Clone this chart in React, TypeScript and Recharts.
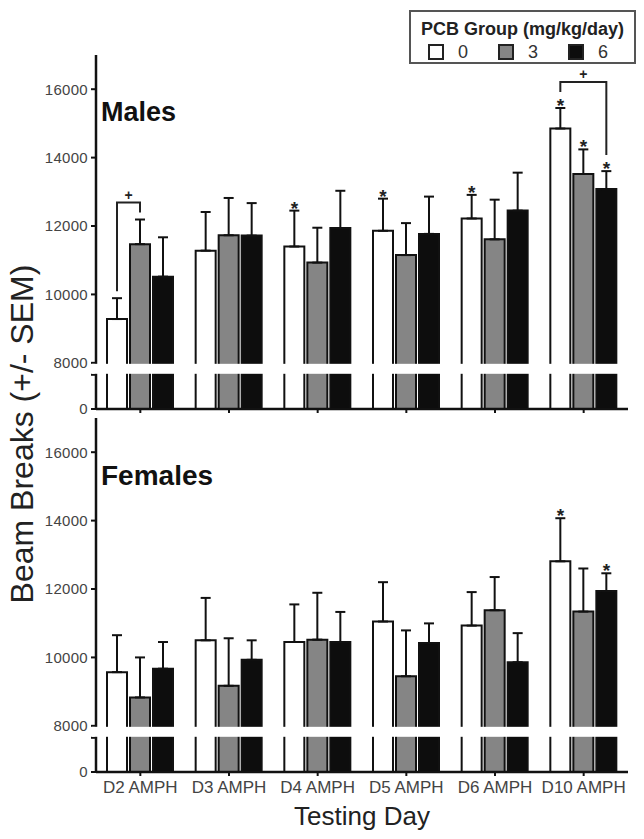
import React from 'react';
import { BarChart, Bar, XAxis, YAxis, ErrorBar, LabelList, ReferenceArea, Legend, Label } from 'recharts';

// categories and groups
const days = ['D2 AMPH', 'D3 AMPH', 'D4 AMPH', 'D5 AMPH', 'D6 AMPH', 'D10 AMPH'];
const groups = ['0', '3', '6'];
const yTickValues = [0, 8000, 10000, 12000, 14000, 16000];

// Males : moyennes et SEM par groupe PCB
const malesMean0 = [9280, 11280, 11400, 11860, 12220, 14850];
const malesMean3 = [11470, 11730, 10930, 11150, 11610, 13520];
const malesMean6 = [10520, 11720, 11940, 11770, 12450, 13080];
const malesSem0 = [610, 1130, 1050, 940, 690, 600];
const malesSem3 = [720, 1090, 1020, 935, 1160, 720];
const malesSem6 = [1150, 950, 1090, 1090, 1110, 525];
const malesStar0 = [false, false, true, true, true, true];
const malesStar3 = [false, false, false, false, false, true];
const malesStar6 = [false, false, false, false, false, true];
const malesBrackets = [
    { day: 0, from: 0, to: 1 },
    { day: 5, from: 0, to: 2 },
];

// Females
const femalesMean0 = [9570, 10500, 10450, 11050, 10930, 12810];
const femalesMean3 = [8830, 9170, 10520, 9450, 11380, 11340];
const femalesMean6 = [9670, 9930, 10450, 10420, 9860, 11940];
const femalesSem0 = [1080, 1240, 1100, 1150, 980, 1260];
const femalesSem3 = [1170, 1390, 1370, 1340, 970, 1260];
const femalesSem6 = [780, 570, 880, 575, 850, 520];
const femalesStar0 = [false, false, false, false, false, true];
const femalesStar3 = [false, false, false, false, false, false];
const femalesStar6 = [false, false, false, false, false, true];
const femalesBrackets: Bracket[] = [];

interface Bracket {
    day: number;
    from: number;
    to: number;
}

// axe coupé : 0-8000 compressé, puis linéaire au-dessus de 8000
const BREAK = 8000;
const LOW_TOP = 1000;
const HIGH_START = 1350;
const U_MAX = 10350;
const u = (v: number) => (v < BREAK ? (v / BREAK) * LOW_TOP : HIGH_START + (v - BREAK));

const FONT = '"Liberation Sans", Arial, Helvetica, sans-serif';
const BAR_SIZE = 20;
const BAR_GAP = 3;
const fills = ['#ffffff', '#858585', '#0d0d0d'];
const INK = '#111';

const yTicks = [...yTickValues.map(u), LOW_TOP].sort((a, b) => a - b);
const yTickFormat = (t: number) => {
    if (t === 0) return '0';
    if (t < HIGH_START) return '';
    return String(Math.round(t - HIGH_START + BREAK));
};

const makeAnnotation = (k: number, means: number[][], sems: number[][], stars: boolean[][], brackets: Bracket[]) =>
    (props: any) => {
        const vb = props.viewBox ?? props;
        const { x, y, width, height } = vb;
        const i = Number(props.value);
        if (!Number.isFinite(i) || !height) return null;
        const ppu = height / u(means[k][i]);
        const base = y + height;
        const step = width + BAR_GAP;
        const cx = x + width / 2;
        const capOf = (s: number) => base - (u(means[s][i]) + sems[s][i]) * ppu;
        const legEnd = (s: number) => capOf(s) - (stars[s][i] ? 16 : 7);
        const nodes: React.ReactNode[] = [];
        if (stars[k][i]) {
            nodes.push(
                <text key="s" x={cx} y={capOf(k) + 4} textAnchor="middle" fontSize={19} fontWeight="bold" fill="#222" fontFamily={FONT}>
                    *
                </text>
            );
        }
        brackets
            .filter((b) => b.day === i && b.from === k)
            .forEach((b, j) => {
                const x2 = cx + (b.to - k) * step;
                const y1 = legEnd(k);
                const y2 = legEnd(b.to);
                const top = Math.min(y1, y2) - 10;
                nodes.push(<path key={'b' + j} d={`M${cx},${y1}V${top}H${x2}V${y2}`} fill="none" stroke="#222" strokeWidth={2} />);
                nodes.push(
                    <text key={'p' + j} x={(cx + x2) / 2} y={top - 3} textAnchor="middle" fontSize={14} fontWeight="bold" fill="#222" fontFamily={FONT}>
                        +
                    </text>
                );
            });
        return <g>{nodes}</g>;
    };

const renderLegend = (props: any) => {
    const payload = props.payload ?? [];
    return (
        <div style={{ position: 'relative', width: 227, height: 54, border: '2px solid #555', boxSizing: 'border-box', background: '#fff', fontFamily: FONT }}>
            <div style={{ position: 'absolute', left: 0, right: 0, top: 7, textAlign: 'center', fontSize: 18, fontWeight: 'bold', color: '#222', lineHeight: '20px' }}>
                PCB Group (mg/kg/day)
            </div>
            {payload.map((entry: any, i: number) => (
                <div key={i} style={{ position: 'absolute', left: 17 + i * 70, top: 31, display: 'flex', alignItems: 'center', lineHeight: '18px' }}>
                    <span style={{ display: 'inline-block', width: 12, height: 12, border: '2px solid #222', background: fills[i] }} />
                    <span style={{ marginLeft: 14, fontSize: 18, color: '#333' }}>{entry.value}</span>
                </div>
            ))}
        </div>
    );
};

interface PanelProps {
    means: number[][];
    sems: number[][];
    stars: boolean[][];
    brackets: Bracket[];
    height: number;
    margin: { top: number; right: number; bottom: number; left: number };
    xAxisHeight: number;
    bottomPanel?: boolean;
}

const Panel: React.FC<PanelProps> = ({ means, sems, stars, brackets, height, margin, xAxisHeight, bottomPanel }) => {
    const data = days.map((day, i) => ({
        day,
        idx: String(i),
        v0: u(means[0][i]),
        v1: u(means[1][i]),
        v2: u(means[2][i]),
        e0: [0, sems[0][i]],
        e1: [0, sems[1][i]],
        e2: [0, sems[2][i]],
    }));
    return (
        <BarChart width={644} height={height} data={data} margin={margin} barGap={BAR_GAP}>
            <XAxis
                dataKey="day"
                height={xAxisHeight}
                axisLine={{ stroke: INK, strokeWidth: 2.5 }}
                tickLine={{ stroke: INK, strokeWidth: 2 }}
                tickSize={4}
                tickMargin={5}
                interval={0}
                tick={{ fontSize: 17, fill: '#444', fontFamily: FONT }}
                tickFormatter={bottomPanel ? undefined : () => ''}
            >
                {bottomPanel && <Label value="Testing Day" position="insideBottom" offset={7} fontSize={26} fill="#222" fontFamily={FONT} />}
            </XAxis>
            <YAxis
                type="number"
                width={96}
                domain={[0, U_MAX]}
                allowDataOverflow
                ticks={yTicks}
                interval={0}
                tickFormatter={yTickFormat}
                axisLine={{ stroke: INK, strokeWidth: 2.5 }}
                tickLine={{ stroke: INK, strokeWidth: 2 }}
                tickSize={5}
                tickMargin={3}
                tick={{ fontSize: 15, fill: '#444', fontFamily: FONT, letterSpacing: 0.3 }}
            />
            {groups.map((g, k) => (
                <Bar key={g} dataKey={'v' + k} name={g} fill={fills[k]} stroke={INK} strokeWidth={2} barSize={BAR_SIZE} isAnimationActive={false}>
                    <ErrorBar dataKey={'e' + k} width={5} stroke={INK} strokeWidth={2} direction="y" />
                    <LabelList dataKey="idx" content={makeAnnotation(k, means, sems, stars, brackets)} />
                </Bar>
            ))}
            <ReferenceArea
                y1={LOW_TOP}
                y2={HIGH_START}
                fill="#fff"
                fillOpacity={1}
                stroke="none"
                zIndex={700}
                shape={(p: any) => <rect x={p.x - 4} y={p.y + 1} width={p.width + 4} height={Math.max(0, p.height - 2)} fill="#fff" />}
            />
            {!bottomPanel && (
                <Legend
                    layout="vertical"
                    align="center"
                    verticalAlign="middle"
                    wrapperStyle={{ left: 409, top: 10, width: 227, height: 54 }}
                    content={renderLegend}
                />
            )}
        </BarChart>
    );
};

const App: React.FC = () => (
    <div style={{ position: 'relative', width: 644, height: 839, margin: -8, background: '#fff' }}>
        <div style={{ position: 'absolute', left: 0, top: 0 }}>
            <Panel
                means={[malesMean0, malesMean3, malesMean6]}
                sems={[malesSem0, malesSem3, malesSem6]}
                stars={[malesStar0, malesStar3, malesStar6]}
                brackets={malesBrackets}
                height={420}
                margin={{ top: 55, right: 16, bottom: 0, left: 0 }}
                xAxisHeight={11}
            />
        </div>
        <div style={{ position: 'absolute', left: 0, top: 412 }}>
            <Panel
                means={[femalesMean0, femalesMean3, femalesMean6]}
                sems={[femalesSem0, femalesSem3, femalesSem6]}
                stars={[femalesStar0, femalesStar3, femalesStar6]}
                brackets={femalesBrackets}
                height={427}
                margin={{ top: 6, right: 16, bottom: 7, left: 0 }}
                xAxisHeight={60}
                bottomPanel
            />
        </div>
        <svg width={644} height={839} style={{ position: 'absolute', left: 0, top: 0, pointerEvents: 'none' }}>
            <text transform="translate(33,434) rotate(-90)" textAnchor="middle" fontSize={32} fill="#222" fontFamily={FONT}>
                Beam Breaks (+/- SEM)
            </text>
            <text x={101} y={121} fontSize={27} fontWeight="bold" fill="#111" fontFamily={FONT}>
                Males
            </text>
            <text x={101} y={485} fontSize={28} fontWeight="bold" fill="#111" fontFamily={FONT}>
                Females
            </text>
        </svg>
    </div>
);

export default App;
